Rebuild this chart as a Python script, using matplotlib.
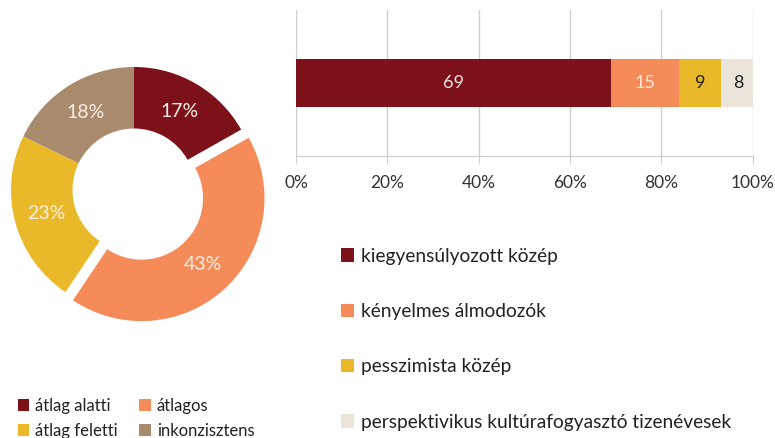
import matplotlib
matplotlib.use("Agg")
import matplotlib.pyplot as plt
from matplotlib.patches import Patch

plt.rcParams['font.family'] = ['Lato', 'DejaVu Sans']

# Donut data
pie_labels = ["átlag alatti", "átlagos", "átlag feletti", "inkonzisztens"]
pie_values = [17, 43, 23, 18]
pie_colors = ["#7C1119", "#F68B5A", "#E9B92A", "#A98A6D"]
pie_explode = [0, 0.09, 0, 0]

# Stacked bar data
bar_labels = ["kiegyensúlyozott közép", "kényelmes álmodozók", "pesszimista közép",
              "perspektivikus kultúrafogyasztó tizenévesek"]
bar_values = [69, 15, 9, 8]
bar_colors = ["#7C1119", "#F68B5A", "#E9B92A", "#EBE4DA"]
bar_text_colors = ["#F3E6E0", "#FCEBD8", "#222222", "#222222"]
xticks = [0, 20, 40, 60, 80, 100]
xtick_labels = ["0%", "20%", "40%", "60%", "80%", "100%"]

W, H = 775, 438
fig = plt.figure(figsize=(W / 100, H / 100), dpi=100)

# ---- Donut ----
cx, cy, half = 134, 190, 140
ax_pie = fig.add_axes([(cx - half) / W, (H - cy - half) / H, 2 * half / W, 2 * half / H])
R = 123
lim = half / R
wedges, texts, autotexts = ax_pie.pie(
    pie_values, colors=pie_colors, explode=pie_explode, startangle=90,
    counterclock=False, radius=1, wedgeprops=dict(width=0.5, linewidth=0),
    autopct=lambda p: f"{p:.0f}%", pctdistance=0.74,
    textprops=dict(color="#F7EEE4", fontsize=14))
ax_pie.set_xlim(-lim, lim)
ax_pie.set_ylim(-lim, lim)
ax_pie.set_aspect('equal')
ax_pie.axis('off')

# ---- Stacked bar ----
x0, x1, y0, y1 = 296, 752.5, 10, 156
ax_bar = fig.add_axes([x0 / W, (H - y1) / H, (x1 - x0) / W, (y1 - y0) / H])
left = 0
for v, c, tc in zip(bar_values, bar_colors, bar_text_colors):
    ax_bar.barh(0, v, left=left, height=0.33, color=c, linewidth=0, zorder=3)
    ax_bar.text(left + v / 2, 0, str(v), ha='center', va='center', color=tc,
                fontsize=13, zorder=4)
    left += v
ax_bar.set_xlim(0, 100)
ax_bar.set_ylim(-0.5, 0.5)
ax_bar.set_xticks(xticks)
ax_bar.set_xticklabels(xtick_labels, fontsize=12.5, color="#333333")
ax_bar.set_yticks([])
ax_bar.grid(axis='x', color="#CFCFCF", linewidth=1, zorder=0)
for s in ['top', 'right', 'left']:
    ax_bar.spines[s].set_visible(False)
ax_bar.spines['bottom'].set_color("#CFCFCF")
ax_bar.tick_params(axis='x', length=6, color="#CFCFCF", pad=8)

# ---- Legends ----
order = [0, 2, 1, 3]  # legend fills column-wise; rows read alatti/átlagos, feletti/inkonzisztens
pie_handles = [Patch(facecolor=pie_colors[i], edgecolor='none') for i in order]
pie_leg_labels = [pie_labels[i] for i in order]
leg1 = fig.legend(pie_handles, pie_leg_labels, ncol=2, loc='upper left',
                  bbox_to_anchor=(11 / W, 1 - 391 / H), frameon=False, fontsize=12,
                  handlelength=0.7, handleheight=0.7, handletextpad=0.35,
                  labelspacing=0.55, columnspacing=1.3, borderaxespad=0)

bar_handles = [Patch(facecolor=c, edgecolor='none') for c in bar_colors]
leg2 = fig.legend(bar_handles, bar_labels, loc='upper left',
                  bbox_to_anchor=(333 / W, 1 - 240 / H), frameon=False, fontsize=13.8,
                  handlelength=0.7, handleheight=0.7, handletextpad=0.35,
                  labelspacing=2.0, borderaxespad=0)
for t in list(leg1.get_texts()) + list(leg2.get_texts()):
    t.set_color("#222222")

fig.savefig("out.png", dpi=100)
